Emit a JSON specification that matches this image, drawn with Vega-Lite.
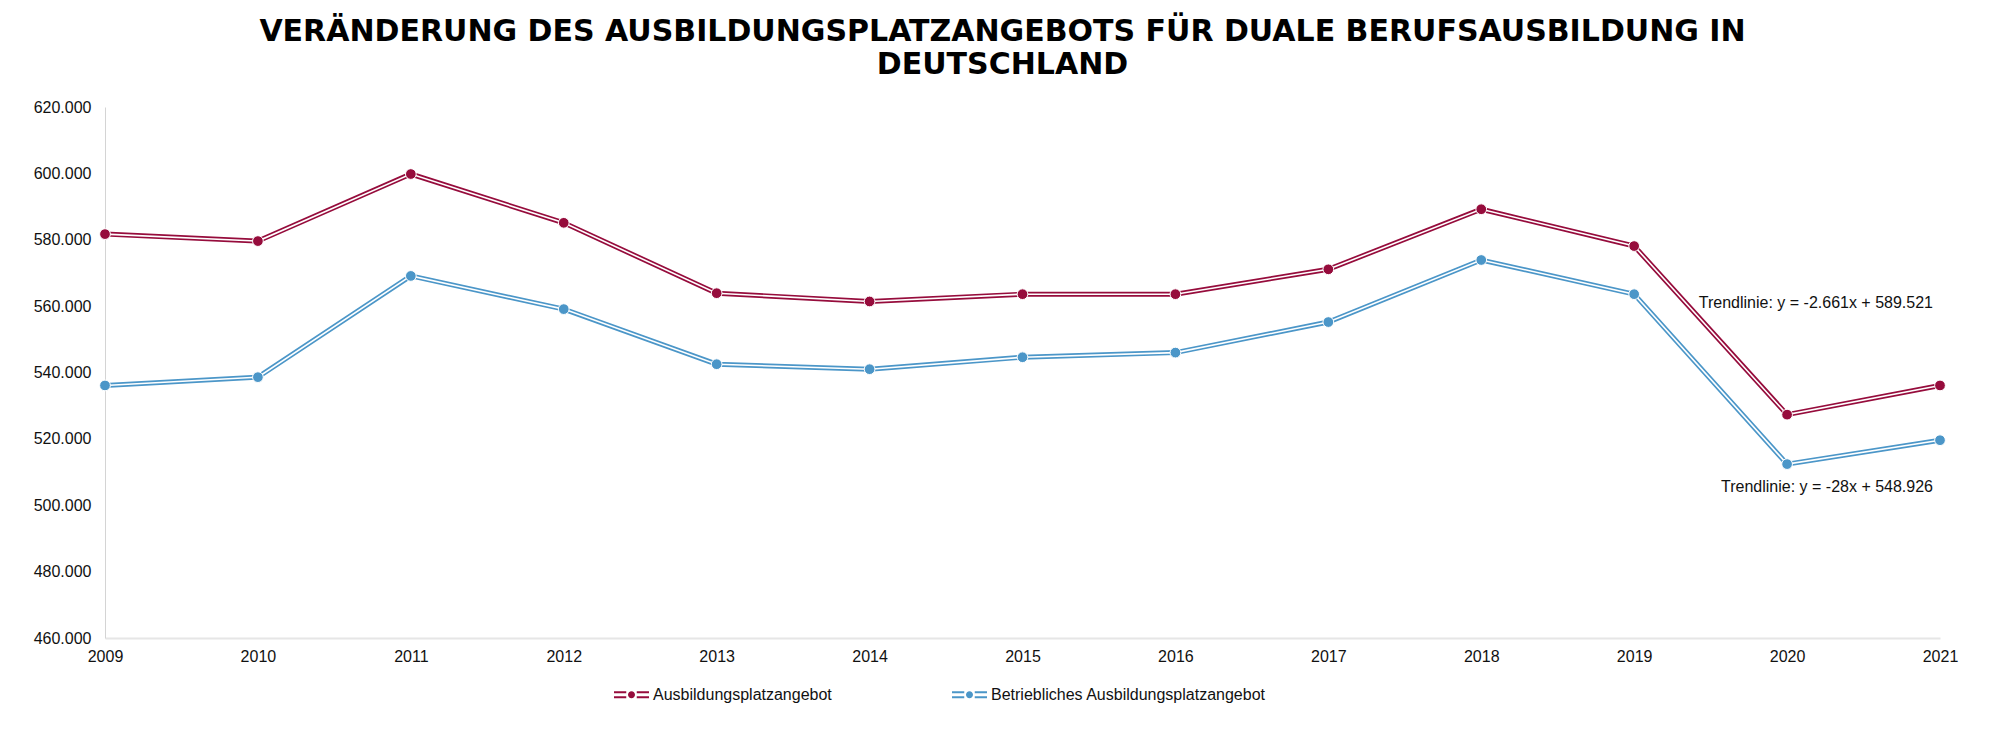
{
  "$schema": "https://vega.github.io/schema/vega-lite/v6.json",
  "width": 1835,
  "height": 531,
  "autosize": "none",
  "padding": {"left": 105, "top": 107, "right": 57, "bottom": 97},
  "background": "white",
  "config": {"font": "Liberation Sans", "view": {"stroke": null}},
  "title": {
    "text": ["VERÄNDERUNG DES AUSBILDUNGSPLATZANGEBOTS FÜR DUALE BERUFSAUSBILDUNG IN", "DEUTSCHLAND"],
    "font": "DejaVu Sans",
    "fontWeight": "bold",
    "fontSize": 30,
    "lineHeight": 33,
    "color": "#000000",
    "anchor": "middle",
    "dx": -20,
    "offset": 19
  },
  "datasets": {
    "series": [
      {"year": 2009, "value": 581700, "series": "Ausbildungsplatzangebot"},
      {"year": 2010, "value": 579600, "series": "Ausbildungsplatzangebot"},
      {"year": 2011, "value": 599800, "series": "Ausbildungsplatzangebot"},
      {"year": 2012, "value": 585100, "series": "Ausbildungsplatzangebot"},
      {"year": 2013, "value": 563900, "series": "Ausbildungsplatzangebot"},
      {"year": 2014, "value": 561400, "series": "Ausbildungsplatzangebot"},
      {"year": 2015, "value": 563600, "series": "Ausbildungsplatzangebot"},
      {"year": 2016, "value": 563600, "series": "Ausbildungsplatzangebot"},
      {"year": 2017, "value": 571100, "series": "Ausbildungsplatzangebot"},
      {"year": 2018, "value": 589200, "series": "Ausbildungsplatzangebot"},
      {"year": 2019, "value": 578100, "series": "Ausbildungsplatzangebot"},
      {"year": 2020, "value": 527300, "series": "Ausbildungsplatzangebot"},
      {"year": 2021, "value": 536100, "series": "Ausbildungsplatzangebot"},
      {"year": 2009, "value": 536100, "series": "Betriebliches Ausbildungsplatzangebot"},
      {"year": 2010, "value": 538600, "series": "Betriebliches Ausbildungsplatzangebot"},
      {"year": 2011, "value": 569100, "series": "Betriebliches Ausbildungsplatzangebot"},
      {"year": 2012, "value": 559100, "series": "Betriebliches Ausbildungsplatzangebot"},
      {"year": 2013, "value": 542500, "series": "Betriebliches Ausbildungsplatzangebot"},
      {"year": 2014, "value": 541000, "series": "Betriebliches Ausbildungsplatzangebot"},
      {"year": 2015, "value": 544600, "series": "Betriebliches Ausbildungsplatzangebot"},
      {"year": 2016, "value": 546000, "series": "Betriebliches Ausbildungsplatzangebot"},
      {"year": 2017, "value": 555200, "series": "Betriebliches Ausbildungsplatzangebot"},
      {"year": 2018, "value": 573900, "series": "Betriebliches Ausbildungsplatzangebot"},
      {"year": 2019, "value": 563600, "series": "Betriebliches Ausbildungsplatzangebot"},
      {"year": 2020, "value": 512400, "series": "Betriebliches Ausbildungsplatzangebot"},
      {"year": 2021, "value": 519600, "series": "Betriebliches Ausbildungsplatzangebot"}
    ],
    "notes": [
      {"year": 2021, "value": 560800, "label": "Trendlinie: y = -2.661x + 589.521"},
      {"year": 2021, "value": 505600, "label": "Trendlinie: y = -28x + 548.926"}
    ]
  },
  "encoding": {
    "x": {
      "field": "year",
      "type": "quantitative",
      "scale": {"domain": [2009, 2021], "nice": false, "zero": false},
      "axis": {
        "title": null,
        "format": "d",
        "values": [2009, 2010, 2011, 2012, 2013, 2014, 2015, 2016, 2017, 2018, 2019, 2020, 2021],
        "labelFlush": false,
        "labelOverlap": false,
        "grid": false,
        "ticks": false,
        "domainColor": "#e6e6e6",
        "domainWidth": 2,
        "labelFontSize": 16,
        "labelColor": "#111111",
        "labelPadding": 10
      }
    },
    "y": {
      "field": "value",
      "type": "quantitative",
      "scale": {"domain": [460000, 620000], "nice": false, "zero": false},
      "axis": {
        "title": null,
        "values": [460000, 480000, 500000, 520000, 540000, 560000, 580000, 600000, 620000],
        "labelExpr": "replace(format(datum.value, ','), ',', '.')",
        "grid": false,
        "ticks": false,
        "domainColor": "#d4d4d4",
        "domainWidth": 1,
        "labelFontSize": 16,
        "labelColor": "#111111",
        "labelPadding": 14
      }
    }
  },
  "layer": [
    {
      "data": {"name": "series"},
      "mark": {"type": "line", "strokeWidth": 5},
      "encoding": {
        "color": {
          "field": "series",
          "type": "nominal",
          "scale": {
            "domain": ["Ausbildungsplatzangebot", "Betriebliches Ausbildungsplatzangebot"],
            "range": ["#960c3c", "#4b96c8"]
          },
          "legend": {
            "orient": "none",
            "legendX": 509,
            "legendY": 570,
            "direction": "horizontal",
            "title": null,
            "symbolType": "M-1,-0.2H-0.3V-0.09H-1Z M0.3,-0.2H1V-0.09H0.3Z M-1,0.09H-0.3V0.2H-1Z M0.3,0.09H1V0.2H0.3Z M-0.2,0A0.2,0.2 0 1,0 0.2,0A0.2,0.2 0 1,0 -0.2,0Z",
            "symbolSize": 1225,
            "symbolStrokeWidth": 0,
            "labelFontSize": 16,
            "labelFont": "Liberation Sans",
            "labelColor": "#111111",
            "labelLimit": 500,
            "labelOffset": 4,
            "columnPadding": 120,
            "encode": {
              "symbols": {
                "update": {
                  "fill": {"scale": "color", "field": "value"},
                  "strokeWidth": {"value": 0}
                }
              }
            }
          }
        }
      }
    },
    {
      "data": {"name": "series"},
      "mark": {"type": "line", "strokeWidth": 1.6, "color": "white"},
      "encoding": {"detail": {"field": "series", "type": "nominal"}}
    },
    {
      "data": {"name": "series"},
      "mark": {"type": "point", "filled": true, "size": 115, "opacity": 1, "stroke": "white", "strokeWidth": 1},
      "encoding": {
        "color": {"field": "series", "type": "nominal"},
        "stroke": {"value": "white"}
      }
    },
    {
      "data": {"name": "notes"},
      "mark": {"type": "text", "align": "right", "baseline": "middle", "dx": -7, "fontSize": 16, "font": "Liberation Sans", "color": "#111111"},
      "encoding": {"text": {"field": "label", "type": "nominal"}}
    }
  ]
}
